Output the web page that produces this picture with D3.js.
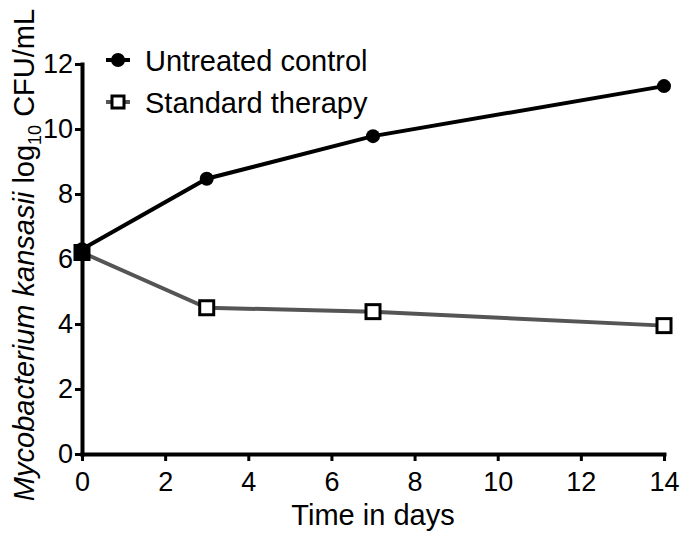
<!DOCTYPE html>
<html><head><meta charset="utf-8">
<script src="https://cdn.jsdelivr.net/npm/d3@7"></script>
<style>body{margin:0;background:#fff}svg{display:block}text{font-family:"Liberation Sans",Arial,sans-serif}</style>
</head><body><svg id="c" width="680" height="534"></svg>
<script>
const days = [0, 3, 7, 14];
const untreated = [6.3, 8.47, 9.78, 11.32];
const standard = [6.2, 4.5, 4.38, 3.95];
const xTicks = [0, 2, 4, 6, 8, 10, 12, 14];
const yTicks = [0, 2, 4, 6, 8, 10, 12];
const seriesNames = ["Untreated control", "Standard therapy"];

const svg = d3.select("#c");
const x = d3.scaleLinear().domain([0, 14]).range([82, 664]);
const y = d3.scaleLinear().domain([0, 12]).range([454, 64]);

// axes
const xAx = svg.append("g").attr("transform", "translate(0,454)")
  .call(d3.axisBottom(x).tickValues(xTicks).tickSize(7).tickSizeOuter(0).tickPadding(11));
const yAx = svg.append("g").attr("transform", "translate(82,0)")
  .call(d3.axisLeft(y).tickValues(yTicks).tickSize(7).tickSizeOuter(0).tickPadding(2));
[xAx, yAx].forEach(g => {
  g.select(".domain").attr("stroke", "#000").attr("stroke-width", 4).attr("stroke-linecap", "square");
  g.selectAll(".tick line").attr("stroke", "#000").attr("stroke-width", 3);
  g.selectAll(".tick text").attr("fill", "#000").style("font-size", "27px");
});

const line = d3.line().x((d, i) => x(days[i])).y(d => y(d));

// standard therapy
svg.append("path").datum(standard).attr("d", line)
  .attr("fill", "none").attr("stroke", "#555").attr("stroke-width", 4);
svg.selectAll(".sq").data(standard).enter().append("rect")
  .attr("x", (d, i) => x(days[i]) - 7).attr("y", d => y(d) - 7)
  .attr("width", 14).attr("height", 14)
  .attr("fill", (d, i) => i === 0 ? "#000" : "#fff").attr("stroke", "#000").attr("stroke-width", 3);

// untreated
svg.append("path").datum(untreated).attr("d", line)
  .attr("fill", "none").attr("stroke", "#000").attr("stroke-width", 4);
svg.selectAll(".ci").data(untreated).enter().append("circle")
  .attr("cx", (d, i) => x(days[i])).attr("cy", d => y(d)).attr("r", 7).attr("fill", "#000");

// legend
const leg = svg.append("g");
const ly = [60, 102];
leg.append("line").attr("x1", 106).attr("x2", 130).attr("y1", ly[0]).attr("y2", ly[0]).attr("stroke", "#000").attr("stroke-width", 4);
leg.append("circle").attr("cx", 118).attr("cy", ly[0]).attr("r", 7).attr("fill", "#000");
leg.append("line").attr("x1", 106).attr("x2", 130).attr("y1", ly[1]).attr("y2", ly[1]).attr("stroke", "#555").attr("stroke-width", 4);
leg.append("rect").attr("x", 112).attr("y", ly[1] - 6).attr("width", 12).attr("height", 12).attr("fill", "#fff").attr("stroke", "#000").attr("stroke-width", 3);
seriesNames.forEach((n, i) => {
  leg.append("text").attr("x", 145).attr("y", ly[i] + 11).style("font-size", "29px").attr("fill", "#000").text(n);
});

// axis titles
svg.append("text").attr("x", 373).attr("y", 525).attr("text-anchor", "middle")
  .style("font-size", "29px").attr("fill", "#000").text("Time in days");
const yt = svg.append("text").attr("transform", "translate(34,255) rotate(-90)")
  .attr("text-anchor", "middle").style("font-size", "29px").attr("fill", "#000");
yt.append("tspan").style("font-style", "italic").text("Mycobacterium kansasii");
yt.append("tspan").text(" log");
yt.append("tspan").attr("dy", 7).style("font-size", "18px").text("10");
yt.append("tspan").attr("dy", -7).text(" CFU/mL");
</script></body></html>
